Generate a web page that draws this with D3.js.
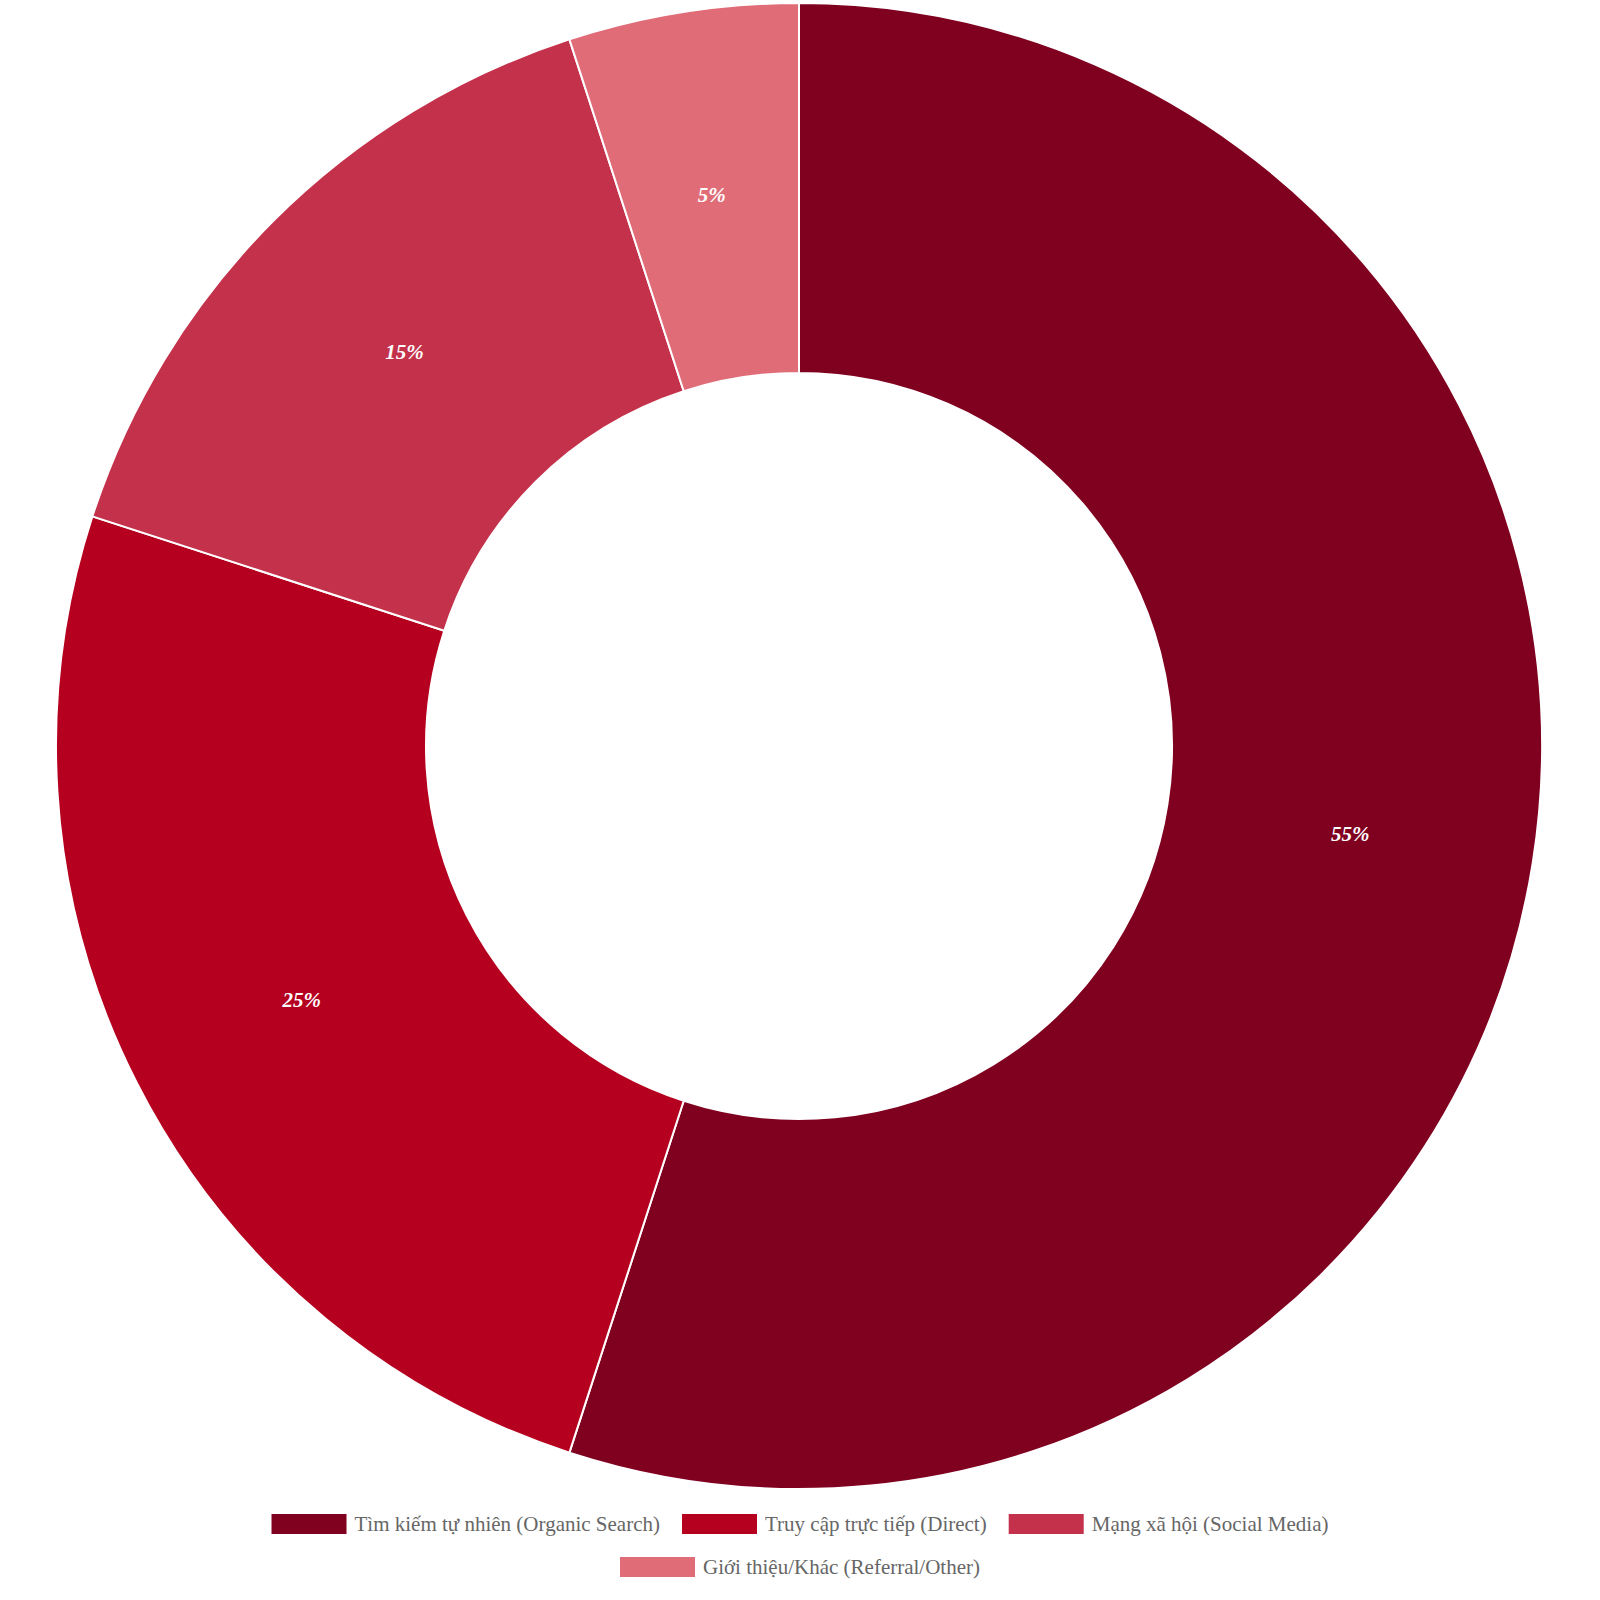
<!DOCTYPE html><html><head><meta charset="utf-8"><script src="https://cdn.jsdelivr.net/npm/d3@7"></script>
<style>body{margin:0;background:#fff}</style></head><body><svg id="c" width="1600" height="1600"></svg>
<script>
const categories=["Tìm kiếm tự nhiên (Organic Search)","Truy cập trực tiếp (Direct)","Mạng xã hội (Social Media)","Giới thiệu/Khác (Referral/Other)"];
const values=[55,25,15,5];
const colors=["#800020","#b5001f","#c4314b","#e06c78"];
const svg=d3.select("#c");
const cx=799,cy=746,R=743,r=373;
const pie=d3.pie().sort(null)(values);
const arc=d3.arc().innerRadius(r).outerRadius(R);
const g=svg.append("g").attr("transform",`translate(${cx},${cy})`);
g.selectAll("path").data(pie).enter().append("path").attr("d",arc).attr("fill",(d,i)=>colors[i]).attr("stroke","#fff").attr("stroke-width",2);
const la=d3.arc().innerRadius((r+R)/2).outerRadius((r+R)/2);
g.selectAll("text").data(pie).enter().append("text").attr("transform",d=>`translate(${la.centroid(d)})`)
 .attr("text-anchor","middle").attr("dy","0.35em").attr("fill","#fff").attr("font-family","Liberation Serif").attr("font-weight","bold").attr("font-style","italic").attr("font-size",21)
 .text((d,i)=>values[i]+"%");
const rows=[[0,1,2],[3]];
const fs=21;
rows.forEach((row,ri)=>{
  const y=1524+ri*43;
  const items=row.map(i=>{const t=svg.append("text").attr("font-family","Liberation Serif").attr("font-size",fs).attr("fill","#666").text(categories[i]);return {i,t,w:t.node().getComputedTextLength()};});
  const gap=22,box=75;
  const total=d3.sum(items,d=>box+8+d.w)+gap*(items.length-1);
  let x=800-total/2;
  items.forEach(d=>{
    svg.append("rect").attr("x",x).attr("y",y-10).attr("width",box).attr("height",20).attr("fill",colors[d.i]);
    d.t.attr("x",x+box+8).attr("y",y).attr("dy","0.35em");
    x+=box+8+d.w+gap;
  });
});
</script></body></html>
